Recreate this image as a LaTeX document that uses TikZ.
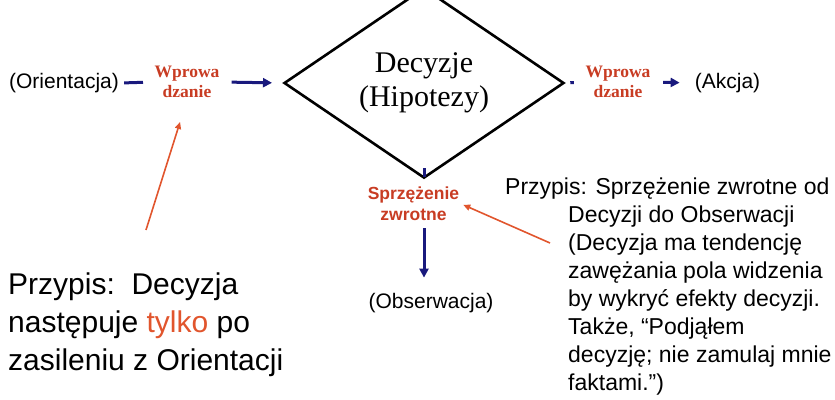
\documentclass[tikz,border=0pt]{standalone}
\usepackage{fontspec}
\setmainfont{Liberation Serif}
\setsansfont{Liberation Sans}
\usetikzlibrary{shapes.geometric,arrows.meta}

\definecolor{flowblue}{RGB}{25,25,125}
\definecolor{lblred}{RGB}{200,60,35}
\definecolor{notered}{RGB}{225,85,45}

\begin{document}
\begin{tikzpicture}[x=1pt, y=-1pt, inner sep=2pt,
    plain/.style={font=\sffamily\fontsize{21}{25}\selectfont},
    entry/.style={font=\bfseries\fontsize{17.5}{20}\selectfont, text=lblred, align=center},
    flow/.style={draw=flowblue, line width=3pt},
    flowarr/.style={flow, -{Triangle[length=9pt,width=9pt]}},
    notearr/.style={draw=notered, line width=1.6pt, -{Triangle[length=7pt,width=6pt]}},
    note/.style={align=left, inner sep=0pt, anchor=north west}]
  \useasboundingbox (0,0) rectangle (835,399);

  % Decision diamond
  \node[diamond, draw, line width=2.6pt, minimum width=280pt, minimum height=136pt, inner sep=0pt,
        font=\fontsize{30}{34}\selectfont, align=center] (dec) at (424,83) {Decyzje\\(Hipotezy)};

  % Main row
  \node[plain] (orient) at (64,83) {(Orientacja)};
  \node[entry] (wprowL) at (187,82) {Wprowa\\dzanie};
  \node[entry] (wprowR) at (618,82) {Wprowa\\dzanie};
  \node[plain] (akcja) at (727.5,83) {(Akcja)};
  \draw[flow, shorten <=3pt, shorten >=9.4pt] (orient.east) -- (wprowL.west);
  \draw[flowarr, shorten <=10pt, shorten >=10.7pt] (wprowL.east) -- (dec.west);
  \draw[flow, shorten <=5pt, shorten >=9.5pt] (dec.east) -- (wprowR.west);
  \draw[flowarr, shorten <=10.5pt, shorten >=13pt] (wprowR.east) -- (akcja.west);

  % Feedback branch
  \node[font=\sffamily\bfseries\fontsize{17.5}{21}\selectfont, text=lblred, align=center] (fb) at (413.5,204) {Sprzężenie\\zwrotne};
  \node[plain] (obs) at (431,303) {(Obserwacja)};
  \draw[flow, shorten <=11pt, shorten >=8pt] (dec.south) -- (dec.south |- fb.north);
  \draw[flowarr, shorten <=5pt, shorten >=13.4pt] (dec.south |- fb.south) -- (dec.south |- obs.north);

  % Notes
  \node[note, font=\sffamily\fontsize{30}{38}\selectfont] (noteor) at (8,272.5)
    {Przypis:\ \ Decyzja\\następuje \textcolor{notered}{tylko} po\\zasileniu z Orientacji};
  \node[note, font=\sffamily\fontsize{23}{28}\selectfont] (notefb) at (505,177.5)
    {Przypis: Sprzężenie zwrotne od\\
     \hspace*{63pt}Decyzji do Obserwacji\\
     \hspace*{63pt}(Decyzja ma tendencję\\
     \hspace*{63pt}zawężania pola widzenia\\
     \hspace*{63pt}by wykryć efekty decyzji.\\
     \hspace*{63pt}Także, “Podjąłem\\
     \hspace*{63pt}decyzję; nie zamulaj mnie\\
     \hspace*{63pt}faktami.”)};

  \coordinate (ortail) at (146,230);
  \coordinate (fbtail) at (550,243);
  \draw[notearr, shorten >=23pt] (ortail) -- (wprowL.south);
  \draw[notearr, shorten >=2pt] (fbtail) -- (fb.east);
\end{tikzpicture}
\end{document}
